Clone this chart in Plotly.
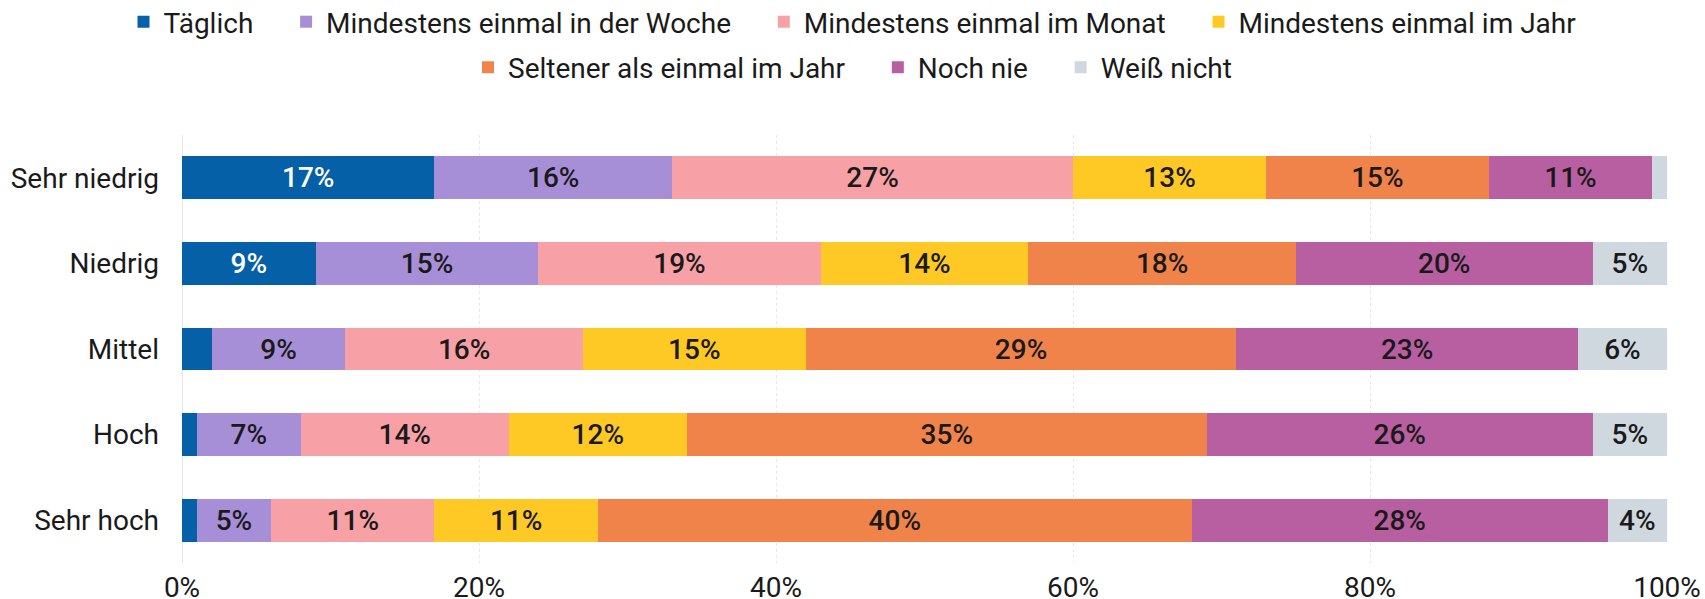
import plotly.graph_objects as go

categories = ["Sehr niedrig", "Niedrig", "Mittel", "Hoch", "Sehr hoch"]
series_names = ["Täglich", "Mindestens einmal in der Woche", "Mindestens einmal im Monat",
                "Mindestens einmal im Jahr", "Seltener als einmal im Jahr", "Noch nie", "Weiß nicht"]
taeglich = [17, 9, 2, 1, 1]
woche = [16, 15, 9, 7, 5]
monat = [27, 19, 16, 14, 11]
jahr = [13, 14, 15, 12, 11]
seltener = [15, 18, 29, 35, 40]
noch_nie = [11, 20, 23, 26, 28]
weiss_nicht = [1, 5, 6, 5, 4]
x_ticks = [0, 20, 40, 60, 80, 100]
x_tick_labels = ["0%", "20%", "40%", "60%", "80%", "100%"]

values = [taeglich, woche, monat, jahr, seltener, noch_nie, weiss_nicht]
colors = ["#0560a8", "#a78fd8", "#f7a1a6", "#fec925", "#f0834a", "#b85fa2", "#cfd8df"]
text_colors = ["#ffffff"] + ["#1a1a1a"] * 6
legend_of = ["legend", "legend", "legend", "legend", "legend2", "legend2", "legend2"]
last_in_row = [False, False, False, True, False, False, True]

FONT = "Roboto"
FS = 28
PAD = "\u00a0" * 4  # extra spacing between legend entries

fig = go.Figure()
for name, vals, col, tcol, lg, last in zip(series_names, values, colors, text_colors,
                                           legend_of, last_in_row):
    fig.add_trace(go.Bar(
        name=name if last else name + PAD, y=categories, x=vals, orientation="h",
        marker=dict(color=col, line=dict(width=0)),
        text=[f"{v}%" if v >= 3 else "" for v in vals],
        texttemplate="%{text}",
        textposition="inside", insidetextanchor="middle", textangle=0,
        constraintext="none",
        textfont=dict(family=FONT, size=FS, color=tcol, weight=500),
        hoverinfo="skip", legend=lg,
    ))

legend_common = dict(orientation="h", xref="container", yref="container",
                     x=0.5, xanchor="center", yanchor="middle", traceorder="normal",
                     font=dict(family=FONT, size=FS, color="#1a1a1a"),
                     itemclick=False, tracegroupgap=0, itemwidth=30)

fig.update_layout(
    barmode="stack", bargap=0.5,
    width=1705, height=599,
    margin=dict(l=182, r=38, t=135, b=36),
    paper_bgcolor="white", plot_bgcolor="white",
    font=dict(family=FONT, size=FS, color="#1a1a1a"),
    showlegend=True,
    legend=dict(y=1 - 22 / 599, **legend_common),
    legend2=dict(y=1 - 67.5 / 599, **legend_common),
    xaxis=dict(range=[0, 100], tickvals=x_ticks, ticktext=x_tick_labels,
               showgrid=True, gridcolor="#e6e6e6", griddash="dot", gridwidth=1,
               zeroline=False, showline=False, ticks="", ticklabelstandoff=5,
               automargin=False,
               tickfont=dict(family=FONT, size=FS, color="#1a1a1a")),
    yaxis=dict(autorange="reversed", showgrid=False, ticks="", ticklabelstandoff=22,
               automargin=False,
               tickfont=dict(family=FONT, size=FS, color="#1a1a1a")),
    shapes=[dict(type="line", xref="x", yref="paper", x0=0, x1=0, y0=0, y1=1,
                 line=dict(color="#e6e6e6", width=2), layer="below")],
)

fig.write_html("out.html", config={"displayModeBar": False},
               post_script="document.body.style.margin='0px';")
